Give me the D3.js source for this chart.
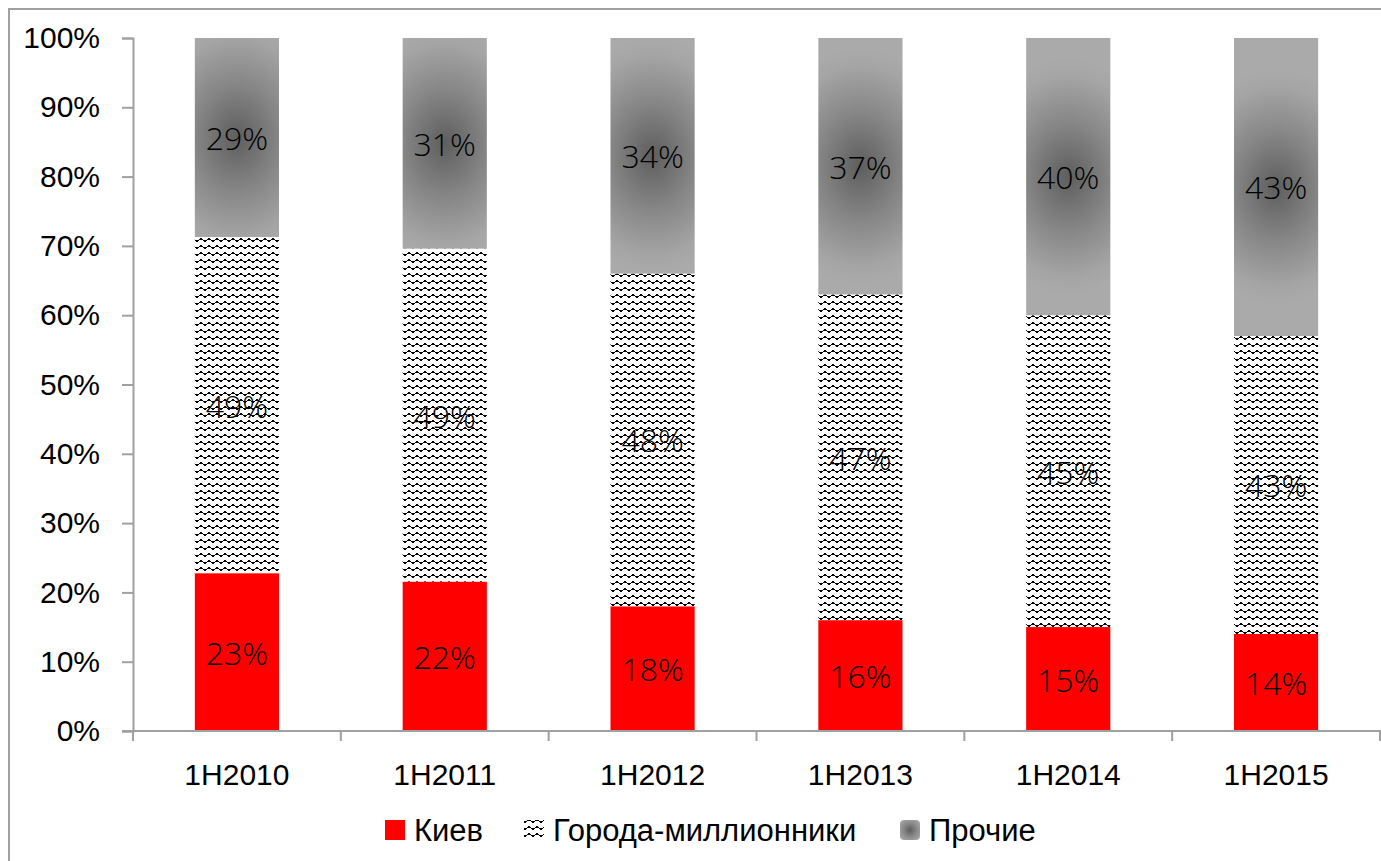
<!DOCTYPE html>
<html>
<head>
<meta charset="utf-8">
<script src="https://cdn.jsdelivr.net/npm/d3@7"></script>
<style>
  body { margin: 0; background: #fff; }
  .axis text { font-family: "Liberation Sans Narrow", "Arial Narrow", "Liberation Sans", sans-serif; font-size: 30px; fill: #000; }
  .lbl { font-family: "Open Sans", sans-serif; font-weight: 300; font-size: 32px; fill: #000; }
  .leg { font-family: "Liberation Sans Narrow", "Arial Narrow", "Liberation Sans", sans-serif; font-size: 31px; fill: #000; }
</style>
</head>
<body>
<div id="chart"></div>
<script>
const categories = ["1H2010", "1H2011", "1H2012", "1H2013", "1H2014", "1H2015"];
const kiev = [23, 22, 18, 16, 15, 14];
const millionCities = [49, 49, 48, 47, 45, 43];
const others = [29, 31, 34, 37, 40, 43];
const seriesNames = ["Киев", "Города-миллионники", "Прочие"];
const yTicks = [0, 0.1, 0.2, 0.3, 0.4, 0.5, 0.6, 0.7, 0.8, 0.9, 1];

let width = 1381;
let height = 861;

const svg = d3.select("#chart").append("svg")
    .attr("width", width)
    .attr("height", height);

const defs = svg.append("defs");

// wave hatch like the excel pattern fill
const wave = defs.append("pattern")
    .attr("id", "wave")
    .attr("patternUnits", "userSpaceOnUse")
    .attr("width", 8)
    .attr("height", 7);
wave.append("rect").attr("width", 8).attr("height", 7).attr("fill", "#fff");
wave.append("path")
    .attr("d", "M0,1 L2,1 L4,3 L6,3 L8,1")
    .attr("fill", "none")
    .attr("stroke", "#000")
    .attr("stroke-width", 1.4)
    .attr("shape-rendering", "crispEdges");

// radial gray, a bit taller than wide
function addGray(id, cx, cy, r, sy) {
    const g = defs.append("radialGradient")
        .attr("id", id)
        .attr("gradientUnits", "userSpaceOnUse")
        .attr("cx", 0).attr("cy", 0).attr("r", r)
        .attr("gradientTransform", `translate(${cx},${cy}) scale(1,${sy})`);
    g.append("stop").attr("offset", "0%").attr("stop-color", "#5e5e5e");
    g.append("stop").attr("offset", "45%").attr("stop-color", "#868686");
    g.append("stop").attr("offset", "85%").attr("stop-color", "#a5a5a5");
    g.append("stop").attr("offset", "100%").attr("stop-color", "#aaaaaa");
    return `url(#${id})`;
}

// outer chart frame
svg.append("rect")
    .attr("x", 9).attr("y", 9)
    .attr("width", width + 20).attr("height", height + 20)
    .attr("fill", "none")
    .attr("stroke", "#a0a0a0")
    .attr("stroke-width", 2);

const x = d3.scaleBand()
    .domain(categories)
    .range([133, 1380])
    .paddingInner(0.595)
    .paddingOuter(0.2975);

const y = d3.scaleLinear()
    .domain([0, 1])
    .range([731, 38]);

const table = categories.map((c, i) => ({
    cat: c, s0: kiev[i], s1: millionCities[i], s2: others[i]
}));

const stack = d3.stack()
    .keys(["s0", "s1", "s2"])
    .offset(d3.stackOffsetExpand);
const layers = stack(table);

const fillFor = (li, d, i) => {
    if (li === 0) return "#ff0000";
    if (li === 1) return "url(#wave)";
    return addGray("gray_" + i, x(d.data.cat) + x.bandwidth() / 2, (y(d[0]) + y(d[1])) / 2, 95, 1.25);
};

const bars = svg.append("g");
layers.forEach((layer, li) => {
    const g = bars.append("g").attr("class", `series_${li}`);
    g.selectAll("rect")
        .data(layer)
        .join("rect")
        .attr("x", d => x(d.data.cat))
        .attr("width", x.bandwidth())
        .attr("y", d => y(d[1]))
        .attr("height", d => y(d[0]) - y(d[1]))
        .attr("fill", (d, i) => fillFor(li, d, i));
    g.selectAll("text")
        .data(layer)
        .join("text")
        .attr("class", "lbl")
        .attr("x", d => x(d.data.cat) + x.bandwidth() / 2)
        .attr("y", d => (y(d[0]) + y(d[1])) / 2)
        .attr("text-anchor", "middle")
        .attr("dominant-baseline", "central")
        .text(d => d.data[layer.key] + "%");
});

// y axis
const yAxis = svg.append("g")
    .attr("class", "axis")
    .attr("transform", "translate(133,0)")
    .call(d3.axisLeft(y).tickValues(yTicks).tickFormat(d3.format(".0%")).tickSize(11).tickPadding(22));
yAxis.selectAll("line, path").attr("stroke", "#a0a0a0").attr("stroke-width", 2);

// x axis, ticks at category boundaries
const xAxis = svg.append("g")
    .attr("class", "axis")
    .attr("transform", "translate(0,731)");
xAxis.append("line")
    .attr("x1", 122).attr("x2", 1381)
    .attr("stroke", "#a0a0a0").attr("stroke-width", 2);
xAxis.selectAll("line.tk")
    .data(d3.range(categories.length + 1))
    .join("line")
    .attr("class", "tk")
    .attr("x1", i => 133 + i * (1247 / categories.length))
    .attr("x2", i => 133 + i * (1247 / categories.length))
    .attr("y1", 0).attr("y2", 10)
    .attr("stroke", "#a0a0a0").attr("stroke-width", 2);
xAxis.selectAll("text")
    .data(categories)
    .join("text")
    .attr("x", d => x(d) + x.bandwidth() / 2)
    .attr("y", 54)
    .attr("text-anchor", "middle")
    .text(d => d);

// legend
const legendItems = [
    { name: seriesNames[0], fill: "#ff0000", x: 385, rx: 0 },
    { name: seriesNames[1], fill: "url(#wave)", x: 524, rx: 0 },
    { name: seriesNames[2], fill: addGray("gray_leg", 910, 830, 14, 1), x: 900, rx: 4 }
];
const legend = svg.append("g");
legendItems.forEach(it => {
    legend.append("rect")
        .attr("x", it.x).attr("y", 820)
        .attr("width", 20).attr("height", 20)
        .attr("rx", it.rx)
        .attr("fill", it.fill);
    legend.append("text")
        .attr("class", "leg")
        .attr("x", it.x + 29)
        .attr("y", 841)
        .text(it.name);
});
</script>
</body>
</html>
